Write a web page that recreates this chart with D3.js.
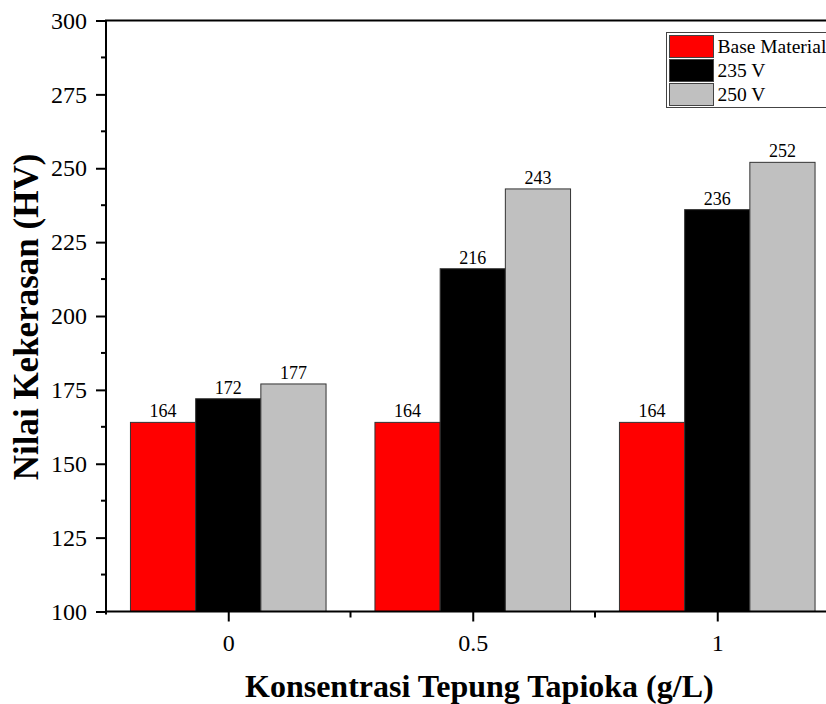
<!DOCTYPE html>
<html>
<head>
<meta charset="utf-8">
<script src="https://cdn.jsdelivr.net/npm/d3@7"></script>
<style>
  html, body { margin: 0; padding: 0; background: #fff; overflow: hidden; }
  svg { display: block; font-family: "Liberation Serif", "Times New Roman", serif; }
  .tick text { font-family: "Liberation Serif", "Times New Roman", serif; font-size: 24px; fill: #000; }
</style>
</head>
<body>
<svg id="chart" width="826" height="704"></svg>
<script>
// Hardness (HV) per tapioca starch concentration
const concentrations = [0, 0.5, 1];
const concentrationLabels = ["0", "0.5", "1"];
const seriesNames = ["Base Material", "235 V", "250 V"];
const baseMaterial = [164, 164, 164];
const v235 = [172, 216, 236];
const v250 = [177, 243, 252];
const yTicks = [100, 125, 150, 175, 200, 225, 250, 275, 300];
const seriesColors = ["#ff0000", "#000000", "#c0c0c0"];

const seriesValues = [baseMaterial, v235, v250];

const svg = d3.select("#chart");
const plotLeft = 106, plotTop = 20.5, plotBottom = 611.5;
const serif = "Liberation Serif, Times New Roman, serif";

const x = d3.scaleLinear().domain([-0.25, 1.25]).range([plotLeft, plotLeft + 489 * 1.5]);
const y = d3.scaleLinear().domain([100, 300]).range([plotBottom, plotTop]);
const barW = x(2 / 15) - x(0);

// bars with value labels
seriesValues.forEach((vals, si) => {
  const g = svg.append("g");
  vals.forEach((v, i) => {
    const cx = x(concentrations[i]) + (si - 1) * barW;
    g.append("rect")
      .attr("x", cx - barW / 2)
      .attr("y", y(v))
      .attr("width", barW)
      .attr("height", y(100) - y(v))
      .attr("fill", seriesColors[si])
      .attr("stroke", "#333")
      .attr("stroke-width", 1);
    g.append("text")
      .attr("x", cx)
      .attr("y", y(v) - 5)
      .attr("text-anchor", "middle")
      .style("font-size", "18px")
      .style("font-family", serif)
      .text(v);
  });
});

// y axis (left) with minor ticks
const yAxis = d3.axisLeft(y).tickValues(yTicks).tickSize(10).tickPadding(9);
const yg = svg.append("g").attr("transform", `translate(${plotLeft},0)`).call(yAxis);
yg.select(".domain").attr("stroke-width", 2).attr("d", `M0,${plotTop}V${plotBottom + 3}`);
yg.selectAll(".tick line").attr("stroke-width", 2);
const yMinor = d3.range(112.5, 300, 25);
svg.append("g").selectAll("line").data(yMinor).join("line")
  .attr("x1", plotLeft - 5).attr("x2", plotLeft)
  .attr("y1", d => y(d)).attr("y2", d => y(d))
  .attr("stroke", "#000").attr("stroke-width", 2);

// x axis with minor ticks
const xAxis = d3.axisBottom(x).tickValues(concentrations)
  .tickFormat((d, i) => concentrationLabels[i]).tickSize(10);
const xg = svg.append("g").attr("transform", `translate(0,${plotBottom})`).call(xAxis);
xg.selectAll(".tick text").attr("dy", null).attr("y", 39);
xg.select(".domain").attr("stroke-width", 2).attr("d", `M${plotLeft - 1},0H826`);
xg.selectAll(".tick line").attr("stroke-width", 2);
svg.append("g").selectAll("line").data([0.25, 0.75]).join("line")
  .attr("x1", d => x(d)).attr("x2", d => x(d))
  .attr("y1", plotBottom).attr("y2", plotBottom + 6)
  .attr("stroke", "#000").attr("stroke-width", 2);

// top frame line
svg.append("line")
  .attr("x1", plotLeft - 1).attr("x2", 826)
  .attr("y1", plotTop).attr("y2", plotTop)
  .attr("stroke", "#000").attr("stroke-width", 2);

// axis titles
svg.append("text")
  .attr("x", 245).attr("y", 697)
  .attr("text-anchor", "start")
  .style("font-family", serif)
  .style("font-size", "32px").style("font-weight", "bold")
  .text("Konsentrasi Tepung Tapioka (g/L)");
svg.append("text")
  .attr("transform", "translate(38,317) rotate(-90)")
  .attr("text-anchor", "middle")
  .style("font-family", serif)
  .style("font-size", "35px").style("font-weight", "bold")
  .text("Nilai Kekerasan (HV)");

// legend
const lg = svg.append("g").attr("transform", "translate(666.5,32.5)");
lg.append("rect").attr("x", 0).attr("y", 0).attr("width", 170).attr("height", 75)
  .attr("fill", "#fff").attr("stroke", "#444").attr("stroke-width", 1);
seriesNames.forEach((name, i) => {
  lg.append("rect")
    .attr("x", 3).attr("y", 3 + i * 24).attr("width", 44).attr("height", 22)
    .attr("fill", seriesColors[i]).attr("stroke", "#444").attr("stroke-width", 1);
  lg.append("text")
    .attr("x", 51).attr("y", 20 + i * 24)
    .style("font-family", serif)
    .style("font-size", "19.5px")
    .text(name);
});
</script>
</body>
</html>
